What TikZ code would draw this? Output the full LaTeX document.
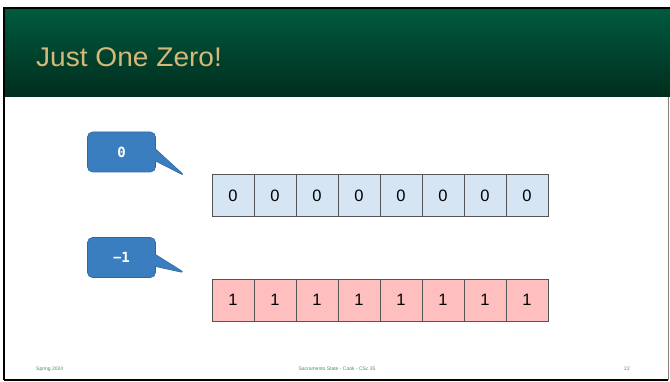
\documentclass[tikz,border=0pt]{standalone}
\usepackage{fontspec}
\setmainfont{Liberation Sans}
\newfontfamily\tagfont{DejaVu Sans Mono}
\usetikzlibrary{positioning,shapes.callouts}
\definecolor{jozGreen}{HTML}{005A3E}
\definecolor{jozDark}{HTML}{002E1E}
\definecolor{jozGold}{HTML}{D8B878}
\definecolor{jozBlue}{HTML}{3A7EC0}
\definecolor{jozBlueDark}{HTML}{2F68A0}
\definecolor{jozPale}{HTML}{D5E5F3}
\definecolor{jozPink}{HTML}{FFBFBF}
\definecolor{jozLine}{HTML}{555555}
\definecolor{jozFoot}{HTML}{4E8A6E}
\tikzset{
  joz frame/.style={draw=black, line width=1.6pt},
  joz title/.style={font=\fontsize{27}{30}\selectfont, text=jozGold, inner sep=0pt},
  joz cell/.style={draw=jozLine, line width=0.7pt, minimum width=42pt, minimum height=42pt, inner sep=0pt, outer sep=0pt, font=\fontsize{16.5}{19}\selectfont},
  joz zero/.style={joz cell, fill=jozPale},
  joz one/.style={joz cell, fill=jozPink},
  joz tag/.style={rectangle callout, rounded corners=5pt, fill=jozBlue, draw=jozBlueDark, line width=0.6pt, text=white, minimum width=68pt, minimum height=40pt, callout pointer width=12pt, font=\tagfont\bfseries\fontsize{14}{16}\selectfont},
  joz footer/.style={font=\fontsize{5}{6}\selectfont, text=jozFoot, inner sep=0pt},
}
\begin{document}
\begin{tikzpicture}[x=1pt,y=-1pt]
  \useasboundingbox (0,0) rectangle (670,382);
  % header band
  \shade[top color=jozGreen, bottom color=jozDark] (4,9) rectangle (670,97);
  \draw[joz frame] (4,380) -- (4,8) -- (670,8);
  \draw[joz frame] (4,380) -- (668,380);
  \draw[draw=gray, line width=0.6pt] (668,97) -- (668,380);
  \node[joz title, anchor=west, xscale=1.04] (title) at (36,57) {Just One Zero!};
  % the two words
  \foreach \i in {1,...,8}{\node[joz zero] (zero\i) at (191+42*\i,195.5) {0};}
  \foreach \i in {1,...,8}{\node[joz one] (one\i) at (191+42*\i,300) {1};}
  % callouts
  \coordinate (zeroTip) at (185,176);
  \coordinate (oneTip) at (185,273);
  \node[joz tag, callout absolute pointer={(zeroTip)}] (zeroTag) at (121.5,152) {0};
  \node[joz tag, callout absolute pointer={(oneTip)}] (oneTag) at (121.5,257.5) {−1};
  % footer
  \node[joz footer, anchor=west] (term) at (36,369) {Spring 2024};
  \node[joz footer] (course) at (337,369) {Sacramento State - Cook - CSc 35};
  \node[joz footer] (page) at (627,369) {22};
\end{tikzpicture}
\end{document}
